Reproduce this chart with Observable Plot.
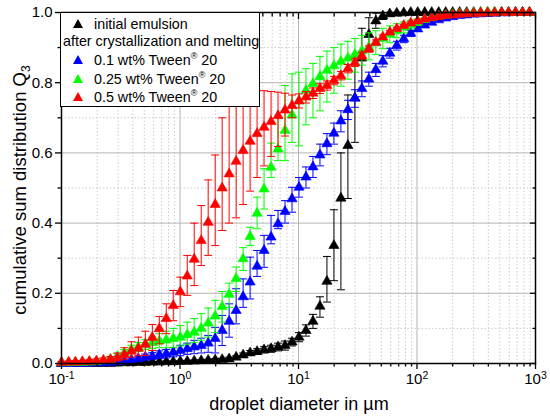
<!DOCTYPE html>
<html><head><meta charset="utf-8">
<script src="https://cdn.jsdelivr.net/npm/d3@7"></script>
<script src="https://cdn.jsdelivr.net/npm/@observablehq/plot@0.6"></script>
<style>
body{margin:0;background:#fff;}
#wrap{position:relative;width:550px;height:419px;font-family:"Liberation Sans",Arial,sans-serif;color:#000;overflow:hidden;}
.legend{position:absolute;left:60px;top:12px;width:198px;height:93px;border:1px solid #000;background:#fff;font-size:14.3px;}
.legend .row{position:absolute;height:18px;line-height:18px;white-space:nowrap;}
.legend svg{position:absolute;top:4px;}
.legend sup{font-size:9px;vertical-align:6px;line-height:0;}
.xtitle{position:absolute;left:299px;top:404px;transform:translate(-50%,-50%);font-size:18px;white-space:nowrap;}
.ytitle{position:absolute;left:20px;top:190px;transform:translate(-50%,-50%) rotate(-90deg);font-size:18.5px;white-space:nowrap;}
.ytitle sub{font-size:12px;vertical-align:-4px;line-height:0;}
</style></head><body><div id="wrap"></div>
<script>
// particle size classes (µm)
const diameters = [0.100,0.115,0.131,0.150,0.172,0.197,0.226,0.259,0.296,0.339,
0.389,0.445,0.510,0.584,0.669,0.766,0.877,1.005,1.151,1.318,
1.510,1.729,1.981,2.269,2.599,2.976,3.409,3.905,4.472,5.122,
5.867,6.720,7.697,8.816,10.097,11.565,13.246,15.172,17.377,19.904,
22.797,26.111,29.907,34.255,39.234,44.938,51.471,58.953,67.523,77.340,
88.583,101.460,116.210,133.103,152.453,174.616,200.000,229.075,262.376,300.518,
344.206,394.244,451.556,517.200,592.387,678.504,777.141,890.116];

// initial emulsion
const initialQ3 = [0,0,0,0,0,0,0,0,0.001,0.002,
0.002,0.003,0.003,0.004,0.004,0.005,0.005,0.006,0.006,0.007,
0.008,0.009,0.010,0.011,0.013,0.018,0.024,0.030,0.034,0.039,
0.042,0.047,0.051,0.061,0.075,0.094,0.120,0.163,0.234,0.336,
0.471,0.621,0.756,0.870,0.937,0.976,0.990,0.996,0.998,0.999,
1,1,1,1,1,1,1,1,1,1,
1,1,1,1,1,1,1,1];
const initialLo = [0,0,0,0,0,0,0,0,0,0.001,
0.001,0.002,0.002,0.002,0.002,0.003,0.003,0.003,0.003,0.004,
0.005,0.006,0.006,0.007,0.008,0.014,0.018,0.023,0.026,0.030,
0.032,0.036,0.038,0.050,0.062,0.078,0.100,0.132,0.175,0.236,
0.210,0.470,0.630,0.780,0.890,0.955,0.980,0.990,0.995,0.998,
1,1,1,1,1,1,1,1,1,1,
1,1,1,1,1,1,1,1];
const initialHi = [0,0,0,0,0,0,0,0,0.002,0.003,
0.003,0.004,0.004,0.006,0.006,0.007,0.007,0.008,0.009,0.010,
0.011,0.012,0.014,0.015,0.018,0.022,0.030,0.037,0.042,0.048,
0.052,0.058,0.064,0.072,0.088,0.110,0.140,0.190,0.305,0.438,
0.600,0.765,0.870,0.955,0.985,0.998,1,1,1,1,
1,1,1,1,1,1,1,1,1,1,
1,1,1,1,1,1,1,1];

// 0.1 wt% Tween 20
const tween01Q3 = [0,0,0,0,0.001,0.001,0.002,0.003,0.005,0.007,
0.010,0.014,0.018,0.021,0.025,0.028,0.032,0.037,0.042,0.047,
0.051,0.058,0.071,0.094,0.120,0.151,0.190,0.232,0.277,0.322,
0.360,0.398,0.433,0.469,0.502,0.531,0.560,0.594,0.626,0.656,
0.691,0.723,0.756,0.783,0.810,0.837,0.861,0.884,0.906,0.925,
0.941,0.953,0.964,0.972,0.979,0.984,0.988,0.991,0.993,0.995,
0.996,0.997,0.998,0.999,0.999,1,1,1];
const tween01Lo = [0,0,0,0,0,0,0.001,0.001,0.002,0.003,
0.005,0.008,0.010,0.012,0.014,0.016,0.019,0.022,0.026,0.028,
0.030,0.032,0.030,0.051,0.075,0.113,0.160,0.184,0.248,0.274,
0.341,0.384,0.400,0.431,0.474,0.500,0.530,0.563,0.595,0.625,
0.660,0.695,0.730,0.760,0.790,0.818,0.845,0.870,0.893,0.914,
0.932,0.946,0.958,0.967,0.975,0.981,0.985,0.989,0.991,0.993,
0.994,0.995,0.996,0.997,0.998,0.999,0.999,1];
const tween01Hi = [0.001,0.001,0.001,0.001,0.002,0.003,0.004,0.006,0.009,0.012,
0.016,0.021,0.027,0.031,0.036,0.040,0.045,0.052,0.058,0.066,
0.072,0.080,0.103,0.137,0.170,0.213,0.241,0.303,0.322,0.365,
0.422,0.436,0.464,0.502,0.530,0.560,0.590,0.625,0.655,0.685,
0.720,0.750,0.780,0.805,0.830,0.855,0.877,0.898,0.918,0.935,
0.949,0.960,0.970,0.977,0.983,0.987,0.991,0.993,0.995,0.997,
0.998,0.999,1,1,1,1,1,1];

// 0.25 wt% Tween 20
const tween025Q3 = [0.002,0.002,0.003,0.003,0.004,0.005,0.008,0.012,0.020,0.030,
0.040,0.047,0.054,0.059,0.064,0.067,0.071,0.075,0.082,0.089,
0.100,0.115,0.135,0.162,0.197,0.242,0.298,0.362,0.428,0.497,
0.559,0.611,0.664,0.708,0.748,0.778,0.797,0.817,0.835,0.848,
0.860,0.870,0.880,0.890,0.901,0.913,0.926,0.938,0.948,0.958,
0.966,0.974,0.980,0.985,0.989,0.992,0.994,0.996,0.997,0.998,
0.999,1,1,1,1,1,1,1];
const tween025Lo = [0,0,0.001,0.001,0.002,0.003,0.005,0.007,0.012,0.020,
0.028,0.034,0.040,0.043,0.045,0.045,0.046,0.050,0.055,0.060,
0.066,0.075,0.088,0.118,0.160,0.205,0.265,0.336,0.384,0.440,
0.530,0.578,0.578,0.630,0.620,0.680,0.700,0.720,0.745,0.770,
0.790,0.810,0.830,0.850,0.865,0.880,0.897,0.914,0.928,0.942,
0.953,0.963,0.972,0.978,0.984,0.988,0.991,0.993,0.995,0.996,
0.997,0.998,0.999,1,1,1,1,1];
const tween025Hi = [0.005,0.005,0.006,0.006,0.007,0.008,0.012,0.018,0.028,0.040,
0.052,0.060,0.068,0.075,0.085,0.092,0.100,0.108,0.118,0.128,
0.142,0.158,0.180,0.205,0.229,0.275,0.330,0.388,0.474,0.555,
0.628,0.700,0.792,0.825,0.830,0.840,0.855,0.875,0.890,0.900,
0.910,0.918,0.926,0.935,0.942,0.948,0.955,0.962,0.968,0.973,
0.978,0.982,0.986,0.989,0.992,0.994,0.996,0.998,0.999,1,
1,1,1,1,1,1,1,1];

// 0.5 wt% Tween 20
const tween05Q3 = [0.003,0.004,0.004,0.005,0.006,0.007,0.009,0.011,0.016,0.025,
0.035,0.043,0.055,0.074,0.099,0.128,0.165,0.204,0.249,0.297,
0.350,0.402,0.453,0.500,0.540,0.576,0.607,0.633,0.655,0.673,
0.689,0.706,0.722,0.735,0.748,0.759,0.770,0.783,0.792,0.806,
0.820,0.840,0.857,0.877,0.896,0.915,0.930,0.944,0.954,0.963,
0.970,0.976,0.981,0.985,0.988,0.991,0.993,0.995,0.996,0.997,
0.998,0.999,0.999,1,1,1,1,1];
const tween05Lo = [0.001,0.002,0.002,0.003,0.003,0.004,0.005,0.006,0.008,0.012,
0.018,0.022,0.023,0.037,0.056,0.085,0.122,0.162,0.194,0.222,
0.279,0.308,0.336,0.379,0.400,0.415,0.453,0.491,0.530,0.563,
0.590,0.618,0.648,0.700,0.728,0.742,0.755,0.769,0.779,0.794,
0.808,0.828,0.846,0.867,0.887,0.908,0.924,0.939,0.950,0.960,
0.967,0.973,0.979,0.983,0.986,0.989,0.991,0.993,0.994,0.995,
0.996,0.997,0.998,0.999,1,1,1,1];
const tween05Hi = [0.006,0.007,0.008,0.009,0.011,0.013,0.016,0.020,0.030,0.045,
0.062,0.075,0.092,0.111,0.134,0.170,0.208,0.246,0.308,0.400,
0.450,0.523,0.594,0.700,0.776,0.778,0.779,0.779,0.778,0.777,
0.775,0.773,0.770,0.765,0.768,0.775,0.785,0.797,0.805,0.818,
0.832,0.852,0.868,0.887,0.905,0.922,0.936,0.949,0.958,0.966,
0.973,0.979,0.983,0.987,0.990,0.993,0.995,0.997,0.998,0.999,
1,1,1,1,1,1,1,1];

const seriesNames = ["initial emulsion","0.1 wt% Tween® 20","0.25 wt% Tween® 20","0.5 wt% Tween® 20"];
const seriesColors = ["#000000","#0000ff","#00ff00","#ff0000"];
const seriesValues = [initialQ3, tween01Q3, tween025Q3, tween05Q3];
const seriesLow = [initialLo, tween01Lo, tween025Lo, tween05Lo];
const seriesHigh = [initialHi, tween01Hi, tween025Hi, tween05Hi];
const legendGroupLabel = "after crystallization and melting";

const xMajorTicks = [0.1, 1, 10, 100, 1000];
const yMajorTicks = [0, 0.2, 0.4, 0.6, 0.8, 1.0];
const yMinorTicks = [0.1, 0.3, 0.5, 0.7, 0.9];
const xMinorTicks = [];
for (const d of [0.1, 1, 10, 100]) for (let m = 2; m <= 9; m++) xMinorTicks.push(+(d * m).toPrecision(3));

const capSymbol = {draw(ctx, size) { const w = Math.sqrt(size / Math.PI); ctx.moveTo(-w, 0); ctx.lineTo(w, 0); }};

const seriesMarks = [];
seriesNames.forEach((name, s) => {
  const rows = diameters.map((x, i) => ({x, y: seriesValues[s][i], lo: seriesLow[s][i], hi: seriesHigh[s][i]}));
  const c = seriesColors[s];
  seriesMarks.push(
    Plot.ruleX(rows, {x: "x", y1: "lo", y2: "hi", stroke: c, strokeWidth: 1}),
    Plot.dot(rows, {x: "x", y: "lo", symbol: capSymbol, r: 4, stroke: c, fill: "none", strokeWidth: 1}),
    Plot.dot(rows, {x: "x", y: "hi", symbol: capSymbol, r: 4, stroke: c, fill: "none", strokeWidth: 1}),
    Plot.dot(rows, {x: "x", y: "y", symbol: "triangle", r: 3.8, fill: c, stroke: c, strokeWidth: 0.6})
  );
});

const chart = Plot.plot({
  width: 550, height: 419,
  marginLeft: 61, marginRight: 15, marginTop: 12, marginBottom: 56,
  style: {fontFamily: "'Liberation Sans', Arial, sans-serif", fontSize: "15px", background: "#fff", color: "#000"},
  x: {type: "log", domain: [0.1, 1000]},
  y: {domain: [0, 1]},
  marks: [
    Plot.gridX(xMinorTicks, {stroke: "#cccccc", strokeOpacity: 1, strokeDasharray: "1.5,2"}),
    Plot.gridY(yMinorTicks, {stroke: "#cccccc", strokeOpacity: 1, strokeDasharray: "1.5,2"}),
    Plot.gridX(xMajorTicks, {stroke: "#b4b4b4", strokeOpacity: 1}),
    Plot.gridY(yMajorTicks, {stroke: "#b4b4b4", strokeOpacity: 1}),
    ...seriesMarks,
    Plot.frame({stroke: "#000", strokeWidth: 1.5}),
    Plot.axisX(xMajorTicks, {tickSize: 6, tickPadding: 4, strokeWidth: 1.3, fontSize: 15, label: null, tickFormat: d => String(Math.round(Math.log10(d)))}),
    Plot.axisX(xMinorTicks, {tickSize: 3.5, strokeWidth: 1.3, label: null, tickFormat: () => ""}),
    Plot.axisX(xMajorTicks, {anchor: "top", tickSize: -6, strokeWidth: 1.3, label: null, tickFormat: () => ""}),
    Plot.axisX(xMinorTicks, {anchor: "top", tickSize: -3.5, strokeWidth: 1.3, label: null, tickFormat: () => ""}),
    Plot.axisY(yMajorTicks, {tickSize: 6, tickPadding: 3, strokeWidth: 1.3, fontSize: 15, label: null, tickFormat: d3.format(".1f")}),
    Plot.axisY(yMinorTicks, {tickSize: 3.5, strokeWidth: 1.3, label: null, tickFormat: () => ""}),
    Plot.axisY(yMajorTicks, {anchor: "right", tickSize: -6, strokeWidth: 1.3, label: null, tickFormat: () => ""}),
    Plot.axisY(yMinorTicks, {anchor: "right", tickSize: -3.5, strokeWidth: 1.3, label: null, tickFormat: () => ""})
  ]
});

// superscript exponents on the x tick labels
const xLabelGroups = chart.querySelectorAll('g[aria-label="x-axis tick label"]');
if (xLabelGroups.length) {
  xLabelGroups[0].querySelectorAll("text").forEach(t => {
    const e = t.textContent;
    if (!e) return;
    t.textContent = "10";
    const sup = document.createElementNS("http://www.w3.org/2000/svg", "tspan");
    sup.setAttribute("dy", "-0.5em");
    sup.setAttribute("font-size", "10.5");
    sup.textContent = e.replace("−", "-");
    t.appendChild(sup);
  });
}

const wrap = document.getElementById("wrap");
wrap.appendChild(chart);

// legend
const legend = document.createElement("div");
legend.className = "legend";
const rowCenters = [11, 28, 47, 66, 84];
function addRow(top, left, html, color) {
  const row = document.createElement("div");
  row.className = "row";
  row.style.top = (top - 9) + "px";
  row.style.left = left + "px";
  row.innerHTML = html;
  legend.appendChild(row);
  if (color) {
    const tri = document.createElementNS("http://www.w3.org/2000/svg", "svg");
    tri.setAttribute("width", "10"); tri.setAttribute("height", "9");
    tri.style.left = "12px"; tri.style.top = (top - 5) + "px";
    tri.innerHTML = `<polygon points="5,0 10,9 0,9" fill="${color}"/>`;
    legend.appendChild(tri);
  }
}
function fmt(name) { return name.replace("®", "<sup>®</sup>"); }
addRow(rowCenters[0], 33, fmt(seriesNames[0]), seriesColors[0]);
addRow(rowCenters[1], 2, legendGroupLabel, null);
for (let s = 1; s < 4; s++) addRow(rowCenters[s + 1], 33, fmt(seriesNames[s]), seriesColors[s]);
wrap.appendChild(legend);

const xt = document.createElement("div");
xt.className = "xtitle"; xt.textContent = "droplet diameter in µm";
wrap.appendChild(xt);
const yt = document.createElement("div");
yt.className = "ytitle"; yt.innerHTML = "cumulative sum distribution Q<sub>3</sub>";
wrap.appendChild(yt);
</script></body></html>
